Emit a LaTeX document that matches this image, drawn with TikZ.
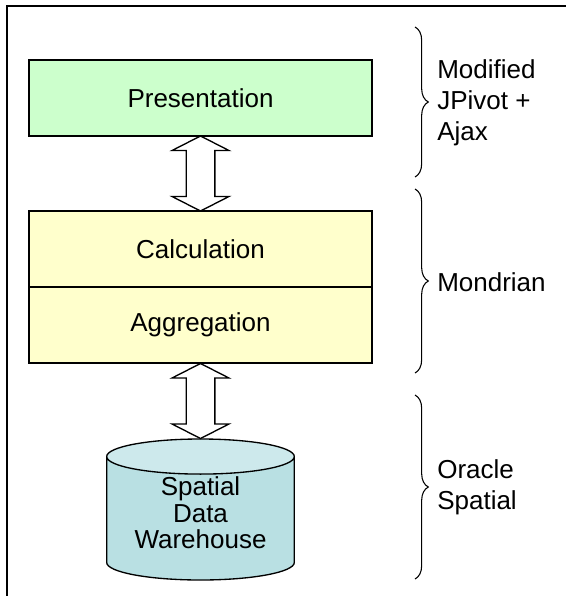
\documentclass[tikz,border=0pt]{standalone}
\usepackage{fontspec}
\setmainfont{Liberation Sans}
\usetikzlibrary{shapes.geometric, shapes.arrows, decorations.pathreplacing, positioning, calc}

\definecolor{presgreen}{HTML}{CCFFCC}
\definecolor{olapyellow}{HTML}{FFFFCC}
\definecolor{dwbody}{RGB}{185,224,227}
\definecolor{dwtop}{RGB}{205,233,236}

\begin{document}
\begin{tikzpicture}[x=0.75pt, y=-0.75pt,
        layer/.style={draw, line width=1pt, rectangle, minimum width=257.25pt, minimum height=57pt, inner sep=0pt, outer sep=0pt, align=center, font=\fontsize{19.5}{23}\selectfont},
        dblarrow/.style={draw, line width=1pt, fill=white, double arrow, shape border rotate=90, double arrow head extend=10.6pt, double arrow tip angle=126, double arrow head indent=0pt, inner sep=10.25pt, minimum height=56.25pt, outer sep=0pt},
        store/.style={draw, line width=1pt, cylinder, shape border rotate=90, aspect=0.187, inner xsep=70.35pt, inner ysep=0pt, minimum width=140.7pt, minimum height=105.75pt, outer sep=0pt, cylinder uses custom fill, cylinder body fill=dwbody, cylinder end fill=dwtop},
        storetext/.style={inner sep=0pt, align=center, font=\fontsize{19.5}{20}\selectfont},
        tier/.style={decorate, decoration={brace, amplitude=10pt}, line width=0.8pt},
        tierlabel/.style={anchor=west, inner sep=0pt, align=left, font=\fontsize{19.5}{23.25}\selectfont}
    ]
        \useasboundingbox (0,0) rectangle (565,596);

        % Frame
        \draw[line width=1pt] (7,600) |- (570,6);

        % Layers
        \node[layer, fill=presgreen] (pres) at (200.5,98) {Presentation};
        \node[layer, fill=olapyellow, below=56.25pt of pres] (calc) {Calculation};
        \node[layer, fill=olapyellow, below=0pt of calc] (aggr) {Aggregation};
        \node[store, below=57pt of aggr] (dw) {};
        \node[storetext] (dwtext) at ($(dw.north)+(0,74)$) {Spatial\\Data\\Warehouse};

        % Arrows
        \node[dblarrow] (up) at ($(pres.south)!0.5!(calc.north)$) {};
        \node[dblarrow] (down) at ($(aggr.south)!0.5!(dw.north)$) {};

        % Braces
        \draw[tier] (415,27) -- (415,177);
        \draw[tier] (415,189) -- (415,373);
        \draw[tier] (415,395) -- (415,579);
        \node[tierlabel] (jpivot) at (437,103) {Modified\\JPivot +\\Ajax};
        \node[tierlabel] (mondrian) at (437,282) {Mondrian};
        \node[tierlabel] (oracle) at (437,487) {Oracle\\Spatial};
    \end{tikzpicture}
\end{document}
